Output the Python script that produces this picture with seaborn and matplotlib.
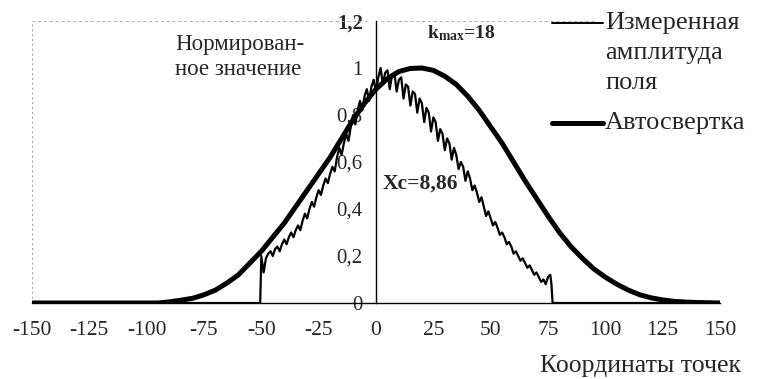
import matplotlib
matplotlib.use("Agg")
import matplotlib.pyplot as plt
import seaborn as sns
import pandas as pd
from matplotlib.lines import Line2D

# ---- data ----
conv_x = [-150, -95, -90, -85, -80, -75, -70, -65, -60, -55, -50, -45, -40, -35, -30,
          -25, -20, -15, -10, -5, 0, 5, 10, 15, 20, 25, 30, 35, 40, 45, 50, 55, 60,
          65, 70, 75, 80, 85, 90, 95, 100, 105, 110, 115, 120, 125, 130, 135, 140, 145, 150]
conv_y = [0, 0, 0.005, 0.012, 0.02, 0.035, 0.055, 0.085, 0.12, 0.17, 0.22, 0.28, 0.34, 0.41, 0.48,
          0.55, 0.62, 0.70, 0.78, 0.85, 0.91, 0.955, 0.985, 0.998, 1.0, 0.99, 0.965, 0.93, 0.88, 0.82, 0.75, 0.68, 0.60,
          0.52, 0.445, 0.37, 0.30, 0.24, 0.19, 0.145, 0.11, 0.08, 0.055, 0.035, 0.022, 0.013, 0.007, 0.004, 0.002, 0.001, 0]

meas_x = [-150, -50.5, -50, -49, -48, -47, -46, -45, -44, -43, -42, -41, -40, -39, -38, -37, -36,
          -35, -34, -33, -32, -31, -30, -29, -28, -27, -26, -25, -24, -23, -22, -21, -20, -19,
          -18, -17, -16, -15, -14, -13, -12, -11, -10, -9, -8, -7, -6, -5, -4, -3, -2, -1, 0,
          1, 2, 3, 4, 5, 6, 7, 8, 9, 10, 11, 12, 13, 14, 15, 16, 17, 18, 19, 20, 21, 22, 23,
          24, 25, 26, 27, 28, 29, 30, 31, 32, 33, 34, 35, 36, 37, 38, 39, 40, 41, 42, 43, 44,
          45, 46, 47, 48, 49, 50, 51, 52, 53, 54, 55, 56, 57, 58, 59, 60, 61, 62, 63, 64, 65,
          66, 67, 68, 69, 70, 71, 72, 73, 74, 75, 76, 76.5, 77, 150]
meas_y = [0, 0, 0.20, 0.13, 0.19, 0.21, 0.22, 0.20, 0.23, 0.24, 0.22, 0.25, 0.27, 0.25, 0.28, 0.30, 0.28,
          0.31, 0.33, 0.31, 0.35, 0.38, 0.36, 0.40, 0.43, 0.41, 0.45, 0.48, 0.46, 0.50, 0.53, 0.51, 0.55, 0.58,
          0.56, 0.62, 0.66, 0.63, 0.68, 0.72, 0.69, 0.75, 0.80, 0.76, 0.82, 0.86, 0.82, 0.88, 0.91, 0.86, 0.92, 0.95, 0.90,
          0.96, 1.0, 0.93, 0.98, 0.99, 0.91, 0.97, 0.98, 0.90, 0.95, 0.96, 0.87, 0.93, 0.92, 0.84, 0.90, 0.89, 0.81, 0.87, 0.85, 0.77, 0.83, 0.81,
          0.73, 0.79, 0.77, 0.69, 0.74, 0.72, 0.65, 0.70, 0.68, 0.61, 0.66, 0.63, 0.57, 0.60, 0.58, 0.52, 0.56, 0.53, 0.48, 0.50, 0.47,
          0.43, 0.45, 0.41, 0.37, 0.39, 0.36, 0.33, 0.345, 0.32, 0.29, 0.30, 0.28, 0.25, 0.26, 0.24, 0.21, 0.22, 0.20, 0.18, 0.19, 0.17,
          0.15, 0.16, 0.14, 0.12, 0.13, 0.11, 0.09, 0.10, 0.08, 0.11, 0.12, 0.08, 0, 0]

x_ticks = [-150, -125, -100, -75, -50, -25, 0, 25, 50, 75, 100, 125, 150]
y_ticks = [0, 0.2, 0.4, 0.6, 0.8, 1.0, 1.2]
y_tick_labels = ["0", "0,2", "0,4", "0,6", "0,8", "1", "1,2"]

label_meas = ["Измеренная", "амплитуда", "поля"]
label_conv = "Автосвертка"
y_title = "Нормирован-\nное значение"
x_title = "Координаты точек"
kmax_text = r"$\mathbf{k}_{\mathbf{max}}$=18"
xc_text = "Xc=8,86"

# ---- style ----
sns.set_style("white")
plt.rcParams["font.family"] = ["Liberation Serif", "DejaVu Serif"]
plt.rcParams["mathtext.fontset"] = "custom"
plt.rcParams["mathtext.rm"] = "Liberation Serif"
plt.rcParams["mathtext.bf"] = "Liberation Serif:bold"
plt.rcParams["mathtext.it"] = "Liberation Serif:italic"

W, H = 776, 379
def fp(x, y):
    return x / W, 1 - y / H

fig = plt.figure(figsize=(W / 100, H / 100), dpi=100)
ax = fig.add_axes([32 / W, 76 / H, 688 / W, 282 / H])

df_conv = pd.DataFrame({"x": conv_x, "y": conv_y})
df_meas = pd.DataFrame({"x": meas_x, "y": meas_y})
sns.lineplot(data=df_meas, x="x", y="y", ax=ax, color="black", linewidth=1.6,
             sort=False, estimator=None, zorder=3)
sns.lineplot(data=df_conv, x="x", y="y", ax=ax, color="black", linewidth=3.6,
             sort=False, estimator=None, zorder=4)

ax.set_xlim(-150, 150)
ax.set_ylim(0, 1.2)
ax.set_xlabel("")
ax.set_ylabel("")

ax.spines["left"].set_position(("data", 0))
ax.spines["top"].set_visible(False)
ax.spines["right"].set_visible(False)
ax.spines["left"].set_linewidth(1.0)
ax.spines["bottom"].set_linewidth(1.0)
ax.spines["left"].set_color("black")
ax.spines["bottom"].set_color("black")

ax.set_xticks(x_ticks)
ax.set_xticklabels([str(t) for t in x_ticks])
ax.set_yticks(y_ticks)
ax.set_yticklabels(y_tick_labels)
ax.tick_params(axis="x", length=0, pad=13, labelsize=15.5)
ax.tick_params(axis="y", direction="inout", length=5, width=0.8, pad=7, labelsize=15)
ax.get_yticklabels()[-1].set_fontweight("bold")

# faint frame remnants
ax.plot([-150, -150], [0, 1.2], color="#999999", lw=0.7, ls=(0, (2, 3)), zorder=1)
ax.plot([-150, -4], [1.2, 1.2], color="#aaaaaa", lw=0.7, ls=(0, (3, 3)), zorder=1)
ax.plot([2, 95], [1.2, 1.2], color="#aaaaaa", lw=0.7, ls=(0, (3, 3)), zorder=1)

# texts
fig.text(*fp(175, 57), y_title, fontsize=16.5, ha="left", va="center", linespacing=1.2)
fig.text(*fp(540, 372), x_title, fontsize=18.5, ha="left", va="baseline")
fig.text(*fp(461, 33), kmax_text, fontsize=14, ha="center", va="center", fontweight="bold")
fig.text(*fp(383, 184), xc_text, fontsize=15.5, ha="left", va="center", fontweight="bold")

# legend (manual)
fig.add_artist(Line2D([552 / W, 603 / W], [1 - 23 / H, 1 - 23 / H], color="black", lw=1.4))
for i, s in enumerate(label_meas):
    fig.text(*fp(605, 23 + 30 * i), s, fontsize=19, ha="left", va="center")
fig.add_artist(Line2D([552 / W, 603 / W], [1 - 123 / H, 1 - 123 / H], color="black", lw=3.6))
fig.text(*fp(605, 123), label_conv, fontsize=19, ha="left", va="center")

fig.savefig("out.png", dpi=100)
